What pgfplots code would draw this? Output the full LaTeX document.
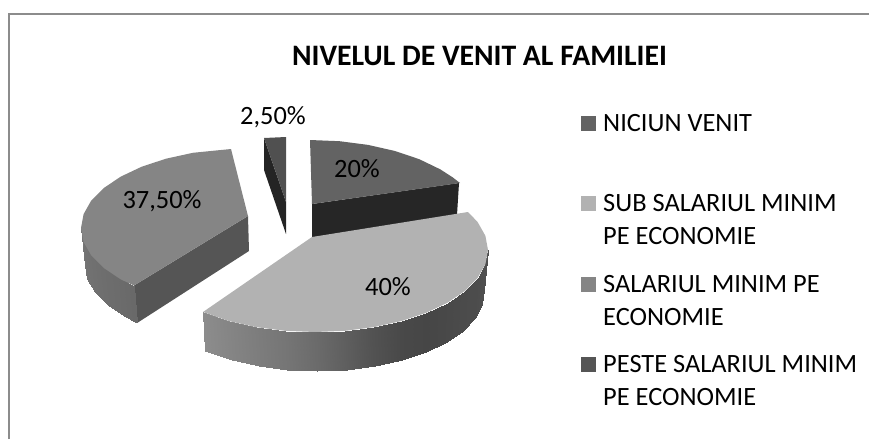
\documentclass[border=0pt]{standalone}
\usepackage{pgfplots}
\usepackage{fontspec}
\setmainfont{Carlito}
\pgfplotsset{compat=1.18}
\definecolor{facea}{HTML}{636363}
\definecolor{wallap}{HTML}{262626}
\definecolor{faceb}{HTML}{B2B2B2}
\definecolor{facec}{HTML}{858585}
\definecolor{wallc}{HTML}{555555}
\definecolor{faced}{HTML}{505050}
\definecolor{walld}{HTML}{242424}
\definecolor{frame}{HTML}{8C8C8C}
\newcommand{\lbl}{\fontsize{26.4}{28}\selectfont}
\begin{document}
\begin{tikzpicture}
\begin{axis}[
    scale only axis,
    width=869pt, height=439pt,
    xmin=0, xmax=869, ymin=0, ymax=439,
    y dir=reverse,
    hide axis,
    colormap={greys}{gray(0cm)=(0); gray(1cm)=(1)},
    point meta min=0, point meta max=1,
]
% keeps the page as large as the whole axis
\path (axis cs:0,0) rectangle (axis cs:869,439);

% frame
\addplot[frame, line width=1.7pt] coordinates {(9,439) (9,14) (869,14)};

% 37,50% slice
\addplot[fill=wallc, draw=none] coordinates {(248,216) (134,285.5) (137.4,322.8) (249,251)};
\addplot[surf, shader=interp, mesh/rows=2, point meta=explicit] table[meta=c] {
x y c
81 228 0.46
83.6 241.9 0.45
91.2 255.4 0.44
103.8 268 0.43
120.8 279.4 0.42
134 285.5 0.41
85 265 0.46
87.5 278.7 0.45
95.1 292 0.44
107.5 304.5 0.43
124.3 315.8 0.42
137.4 322.8 0.41
};
\addplot[fill=facec, draw=none] coordinates {
(248,216) (231,149) (192.9,152.8) (166,158.7) (141.7,166.7) (120.8,176.6)
(103.8,188) (91.2,200.6) (83.6,214.1) (81,228) (83.6,241.9) (91.2,255.4)
(103.8,268) (120.8,279.4) (134,285.5)};

% 2,50% slice
\addplot[fill=walld, draw=none] coordinates {(264,138) (286,202) (286,234) (264,170)};
\addplot[fill=faced, draw=none] coordinates {(264,138) (286,137) (286,202)};

% 20% slice
\addplot[fill=wallap, draw=none] coordinates {(312,204) (459,183) (457,215) (312,238)};
\addplot[fill=facea, draw=none] coordinates {
(310,140) (339.6,141.2) (368.1,144.9) (395,151) (419.3,159.2) (440.2,169.3)
(452.6,177.3) (460,183) (312,204)};

% 40% slice
\addplot[surf, shader=interp, mesh/rows=2, point meta=explicit] table[meta=c] {
x y c
488 250 0.31
485.4 264.2 0.31
477.6 278 0.30
464.8 291 0.295
447.5 302.7 0.285
426.2 312.8 0.275
401.5 321 0.285
374.2 327.1 0.32
345.1 330.8 0.37
315 332 0.42
284.9 330.8 0.46
255.8 327.1 0.49
228.5 321 0.52
203 312 0.55
484 290 0.31
482 304.1 0.31
475 317.7 0.30
463 330.5 0.295
447.2 342.1 0.285
426.3 352 0.275
402 360.1 0.285
375.1 366.1 0.32
346.6 369.8 0.37
317 371 0.42
287.4 369.8 0.46
258.9 366.1 0.49
232 360.1 0.52
205 351 0.55
};
\addplot[fill=faceb, draw=none] coordinates {
(312,237) (468,212) (477.6,222) (485.4,235.8) (488,250) (485.4,264.2) (477.6,278)
(464.8,291) (447.5,302.7) (426.2,312.8) (401.5,321) (374.2,327.1) (345.1,330.8)
(315,332) (284.9,330.8) (255.8,327.1) (228.5,321) (203,312)};

% legend keys
\addplot[fill=facea, draw=none] coordinates {(581,116) (596,116) (596,131) (581,131)};
\addplot[fill=faceb, draw=none] coordinates {(581,196) (596,196) (596,211) (581,211)};
\addplot[fill=facec, draw=none] coordinates {(581,277) (596,277) (596,292) (581,292)};
\addplot[fill=wallc, draw=none] coordinates {(581,357) (596,357) (596,372) (581,372)};

% text
\node[font=\fontsize{29.7}{31}\selectfont\bfseries] at (axis cs:479.5,56) {NIVELUL DE VENIT AL FAMILIEI};
\node[font=\lbl] at (axis cs:273,117) {2,50\%};
\node[font=\lbl] at (axis cs:357,169) {20\%};
\node[font=\lbl] at (axis cs:162,201) {37,50\%};
\node[font=\lbl] at (axis cs:388,287) {40\%};
\node[font=\lbl, anchor=west, inner sep=0pt] at (axis cs:603,123) {NICIUN VENIT};
\node[font=\lbl, anchor=west, inner sep=0pt] at (axis cs:603,203) {SUB SALARIUL MINIM};
\node[font=\lbl, anchor=west, inner sep=0pt] at (axis cs:603,236) {PE ECONOMIE};
\node[font=\lbl, anchor=west, inner sep=0pt] at (axis cs:603,284) {SALARIUL MINIM PE};
\node[font=\lbl, anchor=west, inner sep=0pt] at (axis cs:603,317) {ECONOMIE};
\node[font=\lbl, anchor=west, inner sep=0pt] at (axis cs:603,364) {PESTE SALARIUL MINIM};
\node[font=\lbl, anchor=west, inner sep=0pt] at (axis cs:603,397) {PE ECONOMIE};
\end{axis}
\end{tikzpicture}
\end{document}
